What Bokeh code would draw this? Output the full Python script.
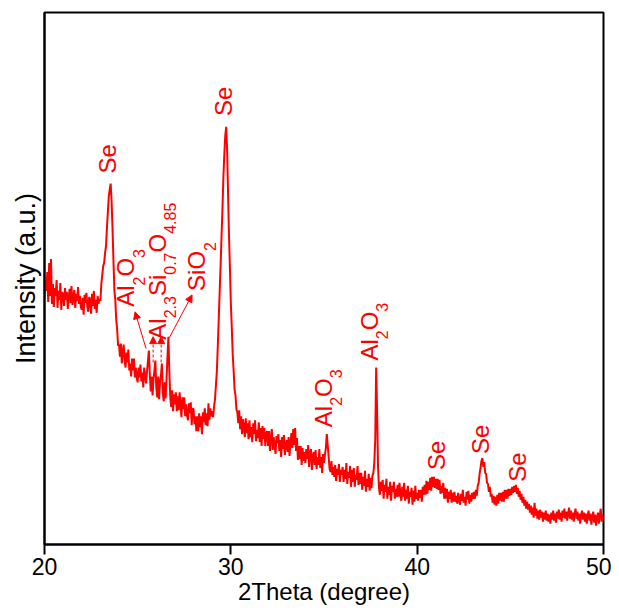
import numpy as np
from bokeh.plotting import figure
from bokeh.models import Range1d, FixedTicker, Label, Arrow, NormalHead
from bokeh.embed import file_html
from bokeh.resources import INLINE

# ---- data ----
two_theta = np.round(np.arange(20.0, 50.0001, 0.05), 2)

intensity = [
    248, 266, 255, 274, 244, 283, 250, 287, 242, 262, 239, 258, 250, 266, 238, 255, 246, 263, 236, 254,  # 20
    251, 240, 258, 246, 254, 237, 249, 257, 243, 260, 241, 248, 256, 238, 252, 245, 259, 242, 250, 239,  # 21
    236, 248, 231, 251, 243, 253, 239, 234, 249, 245, 232, 252, 240, 255, 237, 246, 233, 250, 242, 247,  # 22
    245, 262, 271, 280, 283, 293, 300, 318, 334, 350, 357, 363, 346, 318, 286, 256, 246, 226, 216, 200,  # 23
    201, 189, 202, 182, 194, 201, 185, 178, 193, 183, 196, 175, 182, 169, 187, 175, 187, 168, 178, 168,  # 24
    163, 178, 168, 181, 164, 173, 158, 178, 170, 162, 174, 184, 195, 172, 154, 169, 150, 166, 175, 185,  # 25
    158, 148, 169, 146, 164, 170, 182, 152, 144, 163, 147, 167, 189, 209, 174, 148, 138, 155, 134, 151,  # 26
    141, 153, 134, 149, 135, 153, 140, 128, 148, 136, 148, 129, 141, 130, 125, 142, 132, 143, 120, 137,  # 27
    136, 121, 129, 114, 129, 114, 132, 118, 129, 111, 133, 123, 137, 120, 132, 119, 142, 125, 137, 129,  # 28
    134, 128, 139, 146, 160, 174, 199, 226, 254, 280, 309, 337, 369, 392, 411, 420, 398, 354, 312, 279,  # 29
    243, 219, 192, 175, 156, 150, 136, 133, 122, 135, 116, 129, 111, 126, 118, 108, 127, 112, 122, 106,  # 30
    125, 108, 118, 103, 122, 111, 125, 104, 115, 107, 123, 103, 117, 99, 119, 106, 117, 99, 111, 114,  # 31
    99, 114, 94, 107, 116, 95, 108, 100, 91, 109, 102, 111, 94, 105, 88, 108, 96, 110, 90, 101,  # 32
    105, 93, 108, 89, 102, 112, 97, 116, 100, 117, 94, 107, 85, 99, 86, 99, 80, 97, 84, 93,  # 33
    82, 96, 86, 100, 78, 92, 96, 75, 89, 93, 80, 95, 76, 88, 80, 96, 77, 88, 72, 91,  # 34
    82, 90, 97, 111, 100, 88, 76, 73, 84, 70, 78, 68, 80, 64, 76, 70, 81, 63, 75, 70,  # 35
    78, 63, 75, 66, 82, 61, 73, 67, 79, 58, 75, 63, 77, 58, 70, 65, 79, 60, 72, 61,  # 36
    72, 55, 68, 59, 74, 53, 66, 58, 71, 54, 67, 57, 69, 72, 82, 106, 178, 134, 78, 57,  # 37
    50, 63, 54, 65, 46, 60, 53, 66, 46, 58, 50, 63, 44, 59, 53, 63, 46, 56, 48, 60,  # 38
    48, 62, 51, 44, 58, 48, 62, 44, 55, 46, 59, 41, 53, 48, 57, 40, 54, 43, 59, 46,  # 39
    52, 44, 55, 47, 55, 43, 58, 50, 60, 50, 64, 51, 63, 55, 67, 54, 68, 58, 68, 57,  # 40
    66, 56, 66, 55, 65, 51, 59, 52, 62, 46, 57, 46, 56, 42, 53, 46, 55, 42, 52, 43,  # 41
    53, 43, 49, 41, 52, 45, 40, 51, 44, 55, 42, 48, 39, 53, 45, 54, 41, 50, 43, 52,  # 42
    46, 53, 46, 55, 49, 59, 62, 71, 77, 84, 87, 78, 83, 72, 71, 62, 61, 53, 58, 48,  # 43
    51, 42, 49, 40, 48, 39, 50, 41, 52, 44, 52, 43, 53, 43, 55, 46, 55, 46, 56, 49,  # 44
    56, 50, 58, 52, 59, 53, 60, 51, 57, 48, 54, 45, 51, 42, 48, 39, 45, 36, 43, 35,  # 45
    41, 32, 39, 30, 37, 27, 42, 29, 36, 26, 34, 25, 35, 27, 33, 23, 32, 25, 34, 24,  # 46
    31, 23, 30, 21, 32, 25, 34, 24, 31, 22, 33, 26, 35, 25, 32, 23, 34, 27, 36, 26,  # 47
    33, 24, 31, 37, 26, 34, 25, 32, 23, 31, 36, 26, 33, 24, 31, 21, 30, 34, 25, 32,  # 48
    23, 31, 21, 29, 34, 24, 31, 20, 28, 33, 22, 30, 19, 27, 32, 21, 29, 36, 23, 30,  # 49
    26,
]

x_ticks = [20, 30, 40, 50]

# peak annotations: (2theta anchor, intensity anchor, [(text, is_subscript), ...])
peak_labels = [
    (23.38, 373, [("Se", False)]),
    (29.62, 431, [("Se", False)]),
    (24.35, 239, [("Al", False), ("2", True), ("O", False), ("3", True)]),
    (26.06, 206, [("Al", False), ("2.3", True), ("Si", False), ("0.7", True), ("O", False), ("4.85", True)]),
    (28.18, 255, [("Si", False), ("O", False), ("2", True)]),
    (34.95, 118, [("Al", False), ("2", True), ("O", False), ("3", True)]),
    (37.44, 185, [("Al", False), ("2", True), ("O", False), ("3", True)]),
    (41.04, 75, [("Se", False)]),
    (43.40, 91, [("Se", False)]),
    (45.38, 63, [("Se", False)]),
]

# arrows: (x_start, y_start, x_end, y_end, dashed)
arrows = [
    (25.45, 197, 24.86, 234, False),
    (25.83, 183, 25.83, 209, True),
    (26.26, 183, 26.26, 209, True),
    (26.70, 208, 27.92, 251, False),
]

RED = "#ff0000"
FONT = "Liberation Sans"
MAIN = 24
SUB = 16
WIDTHS = {"A": 0.667, "l": 0.222, "O": 0.778, "S": 0.667, "i": 0.222, "e": 0.556, ".": 0.278}


def advance(s, size):
    return sum(WIDTHS.get(c, 0.556) for c in s) * size


p = figure(width=611, height=607, output_backend="svg", toolbar_location=None,
           x_range=Range1d(20, 50), y_range=Range1d(0, 535),
           min_border_left=44, min_border_right=8, min_border_top=12, min_border_bottom=0)

p.line(two_theta, intensity, line_color=RED, line_width=2)

p.xgrid.visible = False
p.ygrid.visible = False
p.outline_line_color = "black"
p.outline_line_width = 2
p.background_fill_color = "white"
p.border_fill_color = "white"

xa = p.xaxis[0]
xa.ticker = FixedTicker(ticks=x_ticks, minor_ticks=[])
xa.major_tick_out = 10
xa.major_tick_in = 0
xa.major_tick_line_width = 2
xa.axis_line_width = 2
xa.major_label_standoff = 3
xa.major_label_text_font = FONT
xa.major_label_text_font_size = "23px"
xa.major_label_text_color = "black"
xa.axis_label = "2Theta (degree)"
xa.axis_label_text_font = FONT
xa.axis_label_text_font_size = "24px"
xa.axis_label_text_font_style = "normal"
xa.axis_label_standoff = 0
xa.axis_label_text_color = "black"

ya = p.yaxis[0]
ya.ticker = FixedTicker(ticks=[], minor_ticks=[])
ya.major_tick_line_color = None
ya.minor_tick_line_color = None
ya.axis_line_width = 2
ya.axis_label = "Intensity (a.u.)"
ya.axis_label_text_font = FONT
ya.axis_label_text_font_size = "27px"
ya.axis_label_text_font_style = "normal"
ya.axis_label_standoff = 4
ya.axis_label_text_color = "black"

for x0, y0, parts in peak_labels:
    off = 0.0
    for txt, sub in parts:
        size = SUB if sub else MAIN
        p.add_layout(Label(x=x0, y=y0, text=txt, angle=np.pi / 2,
                           x_offset=13 if sub else 0, y_offset=off,
                           text_align="left", text_baseline="middle",
                           text_font=FONT, text_font_size=f"{size}px",
                           text_color=RED))
        off += advance(txt, size)

for xs, ys, xe, ye, dashed in arrows:
    p.add_layout(Arrow(end=NormalHead(size=7, fill_color=RED, line_color=RED, line_width=1),
                       x_start=xs, y_start=ys, x_end=xe, y_end=ye,
                       line_color=RED, line_width=1,
                       line_dash="3 2" if dashed else "solid"))

open("out.html", "w").write(file_html(p, INLINE))
